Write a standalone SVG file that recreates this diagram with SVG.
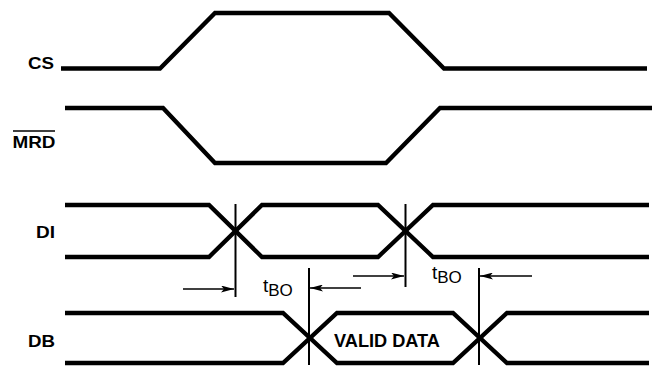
<svg xmlns="http://www.w3.org/2000/svg" width="652" height="371" viewBox="0 0 652 371">
<defs>
<style>
.sig{fill:none;stroke:#000;stroke-width:4.3;stroke-linejoin:miter;stroke-linecap:butt}
.tick{fill:none;stroke:#000;stroke-width:2}
.arr{fill:none;stroke:#000;stroke-width:1.7}
.lbl{font-family:"Liberation Sans",Arial,sans-serif;font-weight:bold;font-size:16.5px;fill:#000}
.tb{font-family:"Liberation Sans",Arial,sans-serif;font-size:19px;fill:#000}
</style>
<marker id="ah" viewBox="0 0 13 7" refX="13" refY="3.5" markerWidth="13" markerHeight="7" markerUnits="userSpaceOnUse" orient="auto">
<path d="M0,0 L13,3.5 L0,7 L3,3.5 Z" fill="#000"/>
</marker>
</defs>
<rect width="652" height="371" fill="#fff"/>
<g id="labels">
<text class="lbl" x="28" y="69" textLength="26" lengthAdjust="spacingAndGlyphs">CS</text>
<text class="lbl" x="12.5" y="147.5" textLength="43" lengthAdjust="spacingAndGlyphs">MRD</text>
<line x1="13" y1="131" x2="55" y2="131" stroke="#000" stroke-width="1.6"/>
<text class="lbl" x="36" y="238" textLength="19" lengthAdjust="spacingAndGlyphs">DI</text>
<text class="lbl" x="28" y="346.5" textLength="27" lengthAdjust="spacingAndGlyphs">DB</text>
</g>
<g id="cs"><path class="sig" d="M61,68.5 L160,68.5 L215,13 L389,13 L444,68.5 L647,68.5"/></g>
<g id="mrd"><path class="sig" d="M65,108 L163,108 L215,163 L386,163 L440,108 L652,108"/></g>
<g id="di">
<path class="sig" d="M65,205 L209,205 L262,257 L378,257 L433,205 L649,205"/>
<path class="sig" d="M65,257 L209,257 L262,205 L378,205 L433,257 L649,257"/>
</g>
<g id="db">
<path class="sig" d="M65,313 L283,313 L337,363 L453,363 L507,313 L649,313"/>
<path class="sig" d="M65,363 L283,363 L337,313 L453,313 L507,363 L649,363"/>
<text class="lbl" x="387" y="346.5" style="font-size:18px" text-anchor="middle" textLength="106" lengthAdjust="spacingAndGlyphs">VALID DATA</text>
</g>
<g id="connectors">
<line class="tick" x1="235.5" y1="204" x2="235.5" y2="297"/>
<line class="tick" x1="405.5" y1="204" x2="405.5" y2="287"/>
<line class="tick" x1="309" y1="268" x2="309" y2="365"/>
<line class="tick" x1="479" y1="268" x2="479" y2="365"/>
<line class="arr" x1="183" y1="289" x2="234" y2="289" marker-end="url(#ah)"/>
<line class="arr" x1="361" y1="288" x2="310" y2="288" marker-end="url(#ah)"/>
<line class="arr" x1="353" y1="276" x2="404" y2="276" marker-end="url(#ah)"/>
<line class="arr" x1="532" y1="276" x2="480" y2="276" marker-end="url(#ah)"/>
</g>
<g id="timing">
<text class="tb" x="263" y="292">t<tspan dy="4" style="font-size:17px">BO</tspan></text>
<text class="tb" x="432" y="279">t<tspan dy="4" style="font-size:17px">BO</tspan></text>
</g>
</svg>
